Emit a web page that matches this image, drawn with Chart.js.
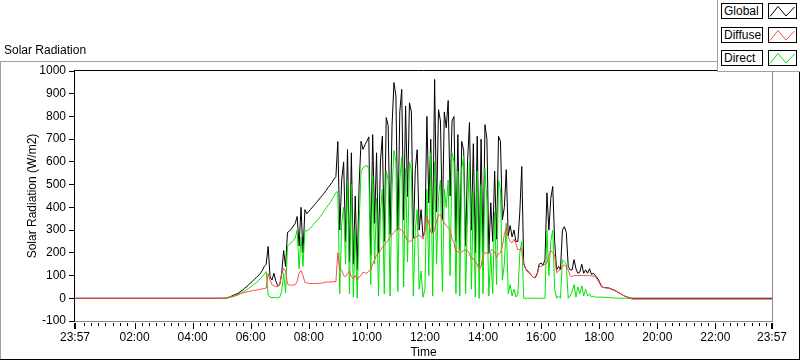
<!DOCTYPE html>
<html>
<head>
<meta charset="utf-8">
<title>Solar Radiation</title>
<script src="https://cdn.jsdelivr.net/npm/chart.js@4/dist/chart.umd.min.js"></script>
<style>
  body { margin: 0; background: #fff; font-family: 'Liberation Sans', Arial, sans-serif; }
  #wrap { position: relative; width: 800px; height: 361px; overflow: hidden; }
  #chart { position: absolute; left: 0; top: 0; }
  #caption { position: absolute; left: 4px; top: 43px; font-size: 12px; color: #000; }
  #legend { position: absolute; left: 717px; top: 0; width: 83px; height: 72px; background: #fff;
            border-left: 1px solid #a0a0a0; border-bottom: 1px solid #a0a0a0; box-sizing: border-box; }
  .name { position: absolute; left: 3px; width: 42px; height: 16px; border: 1px solid #000; box-sizing: border-box;
          font-size: 12px; line-height: 14px; padding-left: 2px; color: #000; }
  .icon { position: absolute; left: 50px; width: 29px; height: 16px; border: 1px solid #000; box-sizing: border-box; }
  .icon svg { position: absolute; left: 0; top: 0; }
</style>
</head>
<body>
<div id="wrap">
  <canvas id="chart" width="800" height="361"></canvas>
  <div id="caption">Solar Radiation</div>
  <div id="legend"></div>
</div>
<script>
// time of each sample, minutes after midnight (-3 = 23:57 of the previous day)
const timeMin = [-3,
  300,304,308,312,316,320,324,328,332,336,
  340,344,348,352,356,360,364,368,372,376,
  380,384,388,392,396,400,404,408,412,416,
  420,424,428,432,436,440,444,448,452,456,
  460,464,468,472,476,480,484,488,492,496,
  500,504,508,512,516,520,524,528,532,536,
  540,544,548,552,556,560,564,568,572,576,
  580,584,588,592,596,600,604,608,612,616,
  620,624,628,632,636,640,644,648,652,656,
  660,664,668,672,676,680,684,688,692,696,
  700,704,708,712,716,720,724,728,732,736,
  740,744,748,752,756,760,764,768,772,776,
  780,784,788,792,796,800,804,808,812,816,
  820,824,828,832,836,840,844,848,852,856,
  860,864,868,872,876,880,884,888,892,896,
  900,904,908,912,916,920,924,928,932,936,
  940,944,948,952,956,960,964,968,972,976,
  980,984,988,992,996,1000,1004,1008,1012,1016,
  1020,1024,1028,1032,1036,1040,1044,1048,1052,1056,
  1060,1064,1068,1072,1076,1080,1084,1088,1092,1096,
  1100,1104,1108,1112,1116,1120,1124,1128,1132,1136,
  1140,1144,1148,
  1437];

const globalRad = [0,
  0,0,0,2,5,9,13,17,20,25,
  31,37,45,52,60,68,76,84,92,100,
  110,122,140,150,228,95,80,110,75,55,
  60,110,210,140,290,295,305,318,330,360,
  230,400,200,390,372,382,392,402,412,422,
  432,443,453,463,475,487,498,510,525,535,
  690,300,520,600,250,654,160,640,150,450,
  125,500,691,655,675,690,710,190,720,330,
  640,200,600,713,250,795,760,280,760,949,
  890,300,820,919,345,846,448,860,820,265,
  566,654,300,390,270,300,800,420,700,290,
  963,380,830,780,345,820,750,870,450,780,
  800,250,720,213,690,650,230,600,773,300,
  680,200,713,140,700,200,764,700,200,420,
  250,560,260,713,690,345,400,566,275,320,
  270,300,250,250,380,580,155,130,120,112,
  100,92,92,110,150,155,145,170,464,300,
  440,492,250,125,140,125,300,315,290,140,
  125,125,170,130,110,115,150,110,125,110,
  130,105,110,100,90,75,55,48,47,46,
  45,42,38,35,30,25,20,15,10,7,
  4,2,0,
  0];

const diffuseRad = [0,
  0,1,2,4,6,8,10,13,16,19,
  22,24,26,28,30,32,34,35,36,38,
  40,41,43,45,110,80,60,55,52,50,
  62,105,132,120,62,58,58,58,60,75,
  110,122,100,70,68,66,65,65,65,65,
  66,66,67,70,71,71,72,72,73,73,
  200,130,125,100,95,110,120,95,85,100,
  80,95,100,115,112,110,120,125,150,170,
  190,200,210,225,235,245,255,270,280,290,
  300,311,305,300,290,270,255,249,255,262,
  270,272,280,270,260,300,360,330,290,287,
  300,340,365,368,345,331,320,310,301,260,
  244,206,205,200,205,210,213,210,195,175,
  175,160,150,125,140,190,200,200,195,210,
  215,200,180,195,200,230,280,315,270,250,
  244,260,240,213,215,220,150,130,115,112,
  100,92,90,105,140,140,145,150,155,190,
  210,200,190,112,120,125,140,147,140,125,
  100,95,100,100,100,100,100,100,100,100,
  100,98,98,95,82,70,52,48,46,45,
  44,41,37,34,29,24,20,15,10,7,
  3,0,-4,
  -4];

const directRad = [null,
  0,0,0,1,3,5,7,10,13,17,
  22,27,32,38,44,50,57,63,70,78,
  86,96,106,117,15,5,3,3,2,2,
  5,30,110,25,230,238,245,255,265,300,
  130,270,140,300,295,302,310,320,330,340,
  350,360,372,385,398,410,420,435,450,465,
  470,20,330,400,150,520,20,500,5,300,
  0,330,560,575,580,585,570,60,540,150,
  440,10,380,480,20,560,520,10,480,650,
  600,30,520,620,50,570,160,600,560,10,
  300,390,40,120,5,40,480,100,640,10,
  600,150,450,520,30,480,400,520,100,640,
  600,20,560,10,570,625,20,380,600,40,
  470,5,560,0,500,20,570,420,10,200,
  20,380,60,520,480,80,150,330,20,60,
  10,40,5,20,200,250,0,0,0,0,
  0,0,0,0,0,0,0,0,300,100,
  250,300,40,0,10,0,170,160,150,0,
  10,30,60,5,50,20,55,10,40,10,
  20,5,10,5,5,5,5,5,4,4,
  3,2,2,1,1,1,0,0,0,0,
  0,0,0,
  null];

const xLabelTicks = [-3, 120, 240, 360, 480, 600, 720, 840, 960, 1080, 1200, 1320, 1437];

const seriesNames = ['Global', 'Diffuse', 'Direct'];
const seriesColors = ['#000000', '#ff4a4a', '#00e400'];

const font = { family: "'Liberation Sans', Arial, sans-serif", size: 12 };

function fmtTime(m) {
  m = ((Math.round(m) % 1440) + 1440) % 1440;
  const h = Math.floor(m / 60), mm = m % 60;
  return String(h).padStart(2, '0') + ':' + String(mm).padStart(2, '0');
}

function points(values) {
  return timeMin.map((t, i) => ({ x: t, y: values[i] }));
}

// legend boxes at the top right
const legend = document.getElementById('legend');
seriesNames.forEach((name, i) => {
  const top = 3 + i * 23.5;
  legend.insertAdjacentHTML('beforeend',
    `<div class="name" style="top:${top}px">${name}</div>` +
    `<div class="icon" style="top:${top}px"><svg width="27" height="14">` +
    `<polyline points="1,12.5 9,2.5 17,12 25.5,3" fill="none" stroke="${seriesColors[i]}" stroke-width="1"/></svg></div>`);
});

// outer frame + plot border + x tick marks
const framePlugin = {
  id: 'frame',
  beforeDraw(chart) {
    const ctx = chart.ctx;
    ctx.save();
    ctx.lineWidth = 1;
    ctx.strokeStyle = '#a0a0a0';
    ctx.beginPath();
    ctx.moveTo(0, 61.5); ctx.lineTo(717, 61.5);
    ctx.moveTo(0.5, 61); ctx.lineTo(0.5, 360);
    ctx.stroke();
    ctx.strokeStyle = '#000';
    ctx.beginPath();
    ctx.moveTo(0, 359.5); ctx.lineTo(800, 359.5);
    ctx.moveTo(799.5, 61); ctx.lineTo(799.5, 360);
    ctx.stroke();
    ctx.restore();
  },
  afterDraw(chart) {
    const ctx = chart.ctx;
    const a = chart.chartArea;
    const xs = chart.scales.x;
    ctx.save();
    ctx.lineWidth = 1;
    ctx.strokeStyle = '#000';
    ctx.beginPath();
    ctx.moveTo(a.left - 1, a.top - 0.5); ctx.lineTo(a.right + 1, a.top - 0.5);
    ctx.moveTo(a.left - 0.5, a.top - 1); ctx.lineTo(a.left - 0.5, a.bottom + 1);
    ctx.stroke();
    ctx.strokeStyle = '#8a8a8a';
    ctx.beginPath();
    ctx.moveTo(a.right + 0.5, a.top); ctx.lineTo(a.right + 0.5, a.bottom + 1);
    ctx.moveTo(a.left, a.bottom + 0.5); ctx.lineTo(a.right + 1, a.bottom + 0.5);
    ctx.stroke();

    ctx.strokeStyle = '#000';
    ctx.beginPath();
    for (let m = 15; m < 1437; m += 15) {
      const x = Math.round(xs.getPixelForValue(m)) + 0.5;
      const len = (m % 120 === 0) ? 6 : 3;
      ctx.moveTo(x, a.bottom + 2); ctx.lineTo(x, a.bottom + 2 + len);
    }
    ctx.stroke();
    ctx.lineWidth = 2;
    ctx.beginPath();
    [-3, 1437].forEach(m => {
      const x = Math.round(xs.getPixelForValue(m));
      ctx.moveTo(x, a.bottom + 2); ctx.lineTo(x, a.bottom + 8);
    });
    ctx.stroke();
    ctx.restore();
  }
};

new Chart(document.getElementById('chart'), {
  type: 'line',
  data: {
    datasets: [
      { label: 'Diffuse', data: points(diffuseRad), borderColor: seriesColors[1], order: 0 },
      { label: 'Direct', data: points(directRad), borderColor: seriesColors[2], order: 1 },
      { label: 'Global', data: points(globalRad), borderColor: seriesColors[0], order: 2 }
    ]
  },
  options: {
    responsive: false,
    animation: false,
    layout: { padding: { top: 71, right: 28, bottom: 0, left: 0 } },
    elements: {
      point: { radius: 0 },
      line: { borderWidth: 1, tension: 0 }
    },
    plugins: {
      legend: { display: false },
      tooltip: { enabled: false }
    },
    scales: {
      x: {
        type: 'linear',
        min: -3,
        max: 1437,
        afterBuildTicks: s => { s.ticks = xLabelTicks.map(v => ({ value: v })); },
        afterFit: s => { s.height = 40; },
        ticks: { callback: v => fmtTime(v), font: font, color: '#000', padding: 9, maxRotation: 0, autoSkip: false },
        grid: { display: false, drawTicks: false },
        border: { display: false },
        title: { display: true, text: 'Time', font: font, color: '#000', padding: { top: 0, bottom: 1 } }
      },
      y: {
        min: -100,
        max: 1000,
        afterFit: s => { s.width = 75; },
        ticks: { stepSize: 100, font: font, color: '#000', padding: 3, callback: v => String(v) },
        grid: { drawOnChartArea: false, tickLength: 6, color: '#000' },
        border: { display: false },
        title: { display: true, text: 'Solar Radiation (W/m2)', font: font, color: '#000', padding: { top: 25, bottom: 0 } }
      }
    }
  },
  plugins: [framePlugin]
});
</script>
</body>
</html>
